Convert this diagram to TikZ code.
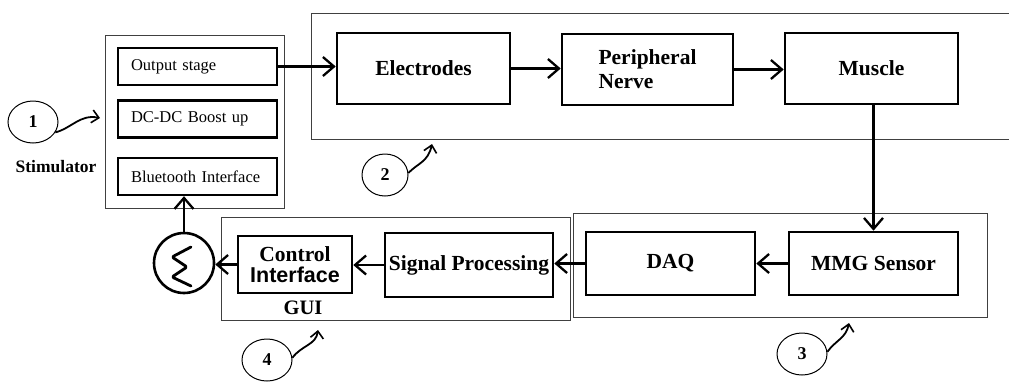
\documentclass[tikz,border=0pt]{standalone}
\usepackage{fontspec}
\setmainfont{Liberation Serif}
\newfontfamily\sansbold{Liberation Sans}[BoldFont={Liberation Sans Bold}]
\usetikzlibrary{arrows.meta,shapes.geometric}
\tikzset{
  blk/.style={draw=black, line width=2.6pt, inner sep=0pt, font=\bfseries\fontsize{21.5}{23}\selectfont},
  stage/.style={draw=black, line width=2.4pt, inner ysep=0pt, inner xsep=13pt, text width=133pt, align=left,
                minimum height=37pt, font=\fontsize{16.5}{18}\selectfont},
  group/.style={draw=black!75, line width=1pt},
  arr/.style={line width=2.4pt, -{Straight Barb[length=11pt,width=19pt,line width=2.3pt]}},
  tag/.style={draw=black, line width=1pt, ellipse, minimum width=50pt, minimum height=42pt, inner sep=0pt,
              font=\bfseries\fontsize{18}{20}\selectfont},
  curly/.style={line width=1.8pt, -{Straight Barb[length=7pt,width=13pt,line width=1.6pt]}},
  lbl/.style={font=\bfseries\fontsize{18}{20}\selectfont, inner sep=0pt}
}
\begin{document}
\begin{tikzpicture}[x=1pt,y=-1pt]
\useasboundingbox (0,0) rectangle (1009,381);
\fill[white] (0,0) rectangle (1009,381);

% group frames
\draw[group] (105,35) rectangle (284,208);
\draw[group] (1015,13) -- (311,13) -- (311,139) -- (1015,139);
\draw[group] (573,213) rectangle (987,317);
\draw[group] (221,217) rectangle (570,320);

% stimulator stages
\node[stage] (os) at (197.5,66.5) {Output stage};
\node[stage] (dc) at (197.5,119) {DC-DC Boost up};
\node[stage] (bt) at (197.5,176.5) {Bluetooth Interface};

% stimulation path
\node[blk, minimum width=173pt, minimum height=71pt] (el) at (423.5,68.5) {Electrodes};
\node[blk, minimum width=171pt, minimum height=71pt, align=left] (pn) at (647.5,69.5) {Peripheral\\[1pt]Nerve};
\node[blk, minimum width=173pt, minimum height=71pt] (mu) at (871.5,68.5) {Muscle};

% sensing path
\node[blk, minimum width=169pt, minimum height=63pt] (mmg) at (873.5,263.5) {MMG Sensor};
\node[blk, minimum width=169pt, minimum height=63pt] (daq) at (670.5,263.5) {DAQ};

% processing and control
\node[blk, minimum width=168pt, minimum height=64pt] (sp) at (469,265) {\raisebox{4pt}{Signal Processing}};
\node[blk, minimum width=114pt, minimum height=57pt, align=center] (ci) at (295,264.5)
  {Control\\[-2pt]{\sansbold\bfseries Interface}};
\node[lbl, font=\bfseries\fontsize{20.5}{22}\selectfont] (gui) at (303,308) {GUI};

% switch symbol
\node[draw=black, line width=2.6pt, circle, minimum size=60pt, inner sep=0pt] (sw) at (184,263) {};
\draw[line width=2.8pt, line join=round, line cap=round, rounded corners=1.5pt]
  (191,247) -- (172,257) -- (187,267) -- (172,277) -- (191,286);

% numbered tags
\node[tag] (t1) at (33,122) {1};
\node[lbl, font=\bfseries\fontsize{17.5}{19}\selectfont] (stim) at (56,167) {Stimulator};
\node[tag, minimum width=46pt, minimum height=42pt] (t2) at (385,175) {2};
\node[tag] (t3) at (802,354) {3};
\node[tag] (t4) at (267,360) {4};

\coordinate (p1) at (100,118);
\coordinate (p2) at (432,144);
\coordinate (p3) at (849,323);
\coordinate (p4) at (318,330);
\draw[curly] (t1.-25) .. controls (72,128) and (80,114) .. (p1);
\draw[curly] (t2.5) .. controls (418,163) and (428,162) .. (p2);
\draw[curly] (t3.5) .. controls (836,340) and (846,338) .. (p3);
\draw[curly] (t4.5) .. controls (302,345) and (316,345) .. (p4);

% signal flow
\draw[arr] (os.east) -- (os.east -| el.west);
\draw[arr] (el.east) -- (el.east -| pn.west);
\draw[arr] (pn.east) -- (pn.east -| mu.west);
\draw[arr] (mu.south -| mmg.north) -- (mmg.north);
\draw[arr] (mmg.west) -- (daq.east);
\draw[arr] (daq.west) -- (daq.west -| sp.east);
\draw[arr] (sp.west) -- (sp.west -| ci.east);
\draw[arr] (ci.west) -- (ci.west -| sw.east);
\draw[arr] (sw.north) -- (sw.north |- bt.south);
\end{tikzpicture}
\end{document}
